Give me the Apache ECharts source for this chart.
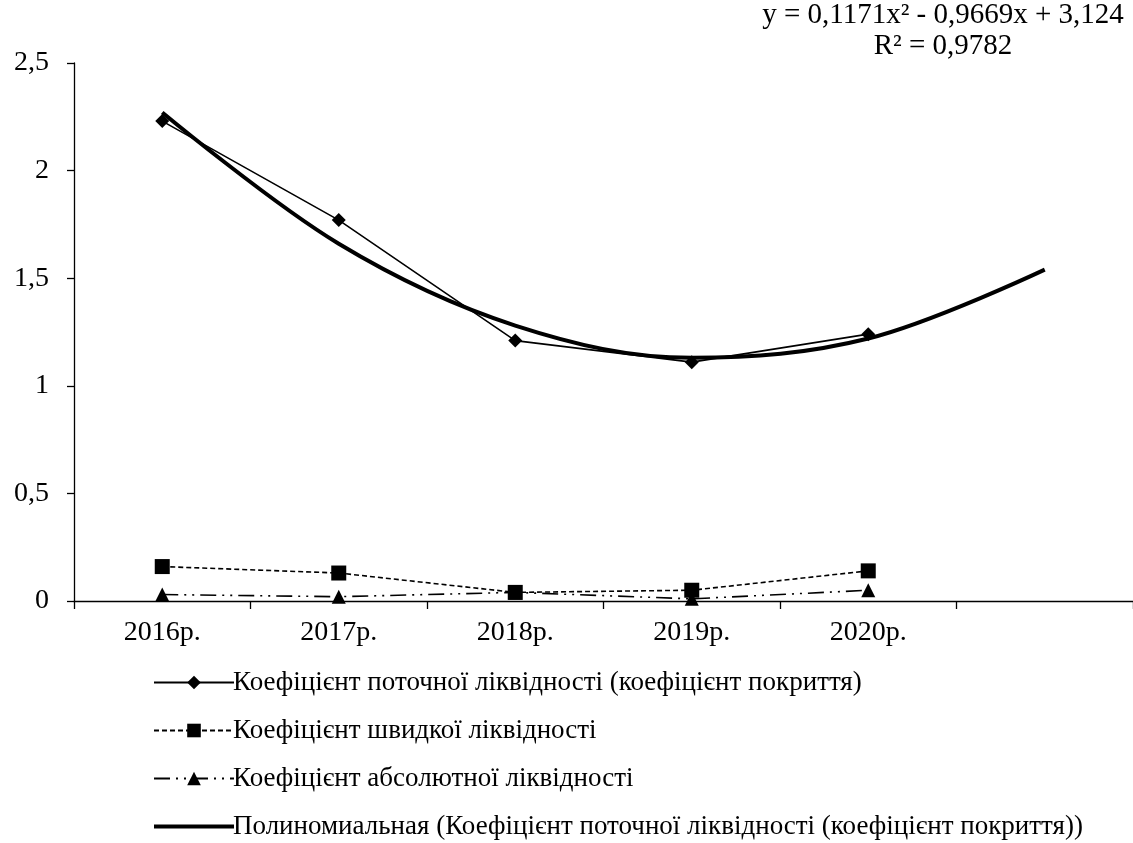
<!DOCTYPE html>
<html><head><meta charset="utf-8">
<script src="https://cdn.jsdelivr.net/npm/echarts@6/dist/echarts.min.js"></script>
<style>html,body{margin:0;padding:0;background:#fff}#c{width:1133px;height:843px}</style>
</head><body><div id="c"></div>
<script>
const categories = ['2016р.', '2017р.', '2018р.', '2019р.', '2020р.', ''];
const currentLiquidity = [2.23, 1.77, 1.21, 1.11, 1.24];
const quickLiquidity = [0.16, 0.13, 0.04, 0.05, 0.14];
const absoluteLiquidity = [0.03, 0.02, 0.04, 0.01, 0.05];
const trendValues = [2.27, 1.66, 1.28, 1.13, 1.22, 1.54];
const yTicks = ['0', '0,5', '1', '1,5', '2', '2,5'];
const names = [
  'Коефіцієнт поточної ліквідності (коефіцієнт покриття)',
  'Коефіцієнт швидкої ліквідності',
  'Коефіцієнт абсолютної ліквідності',
  'Полиномиальная (Коефіцієнт поточної ліквідності (коефіцієнт покриття))'
];
const F = '"Liberation Serif", "DejaVu Serif", serif';
const chart = echarts.init(document.getElementById('c'));
chart.setOption({
  animation: false,
  backgroundColor: '#fff',
  grid: { left: 74, top: 63, width: 1063, bottom: 242 },
  xAxis: {
    type: 'category', data: categories, boundaryGap: true,
    axisLine: { lineStyle: { color: '#000', width: 1.3 } },
    axisTick: { show: true, length: 8, lineStyle: { color: '#000', width: 1.3 } },
    axisLabel: { color: '#000', fontFamily: F, fontSize: 28, margin: 18 },
    splitLine: { show: false }
  },
  yAxis: {
    type: 'value', min: 0, max: 2.5, interval: 0.5,
    axisLine: { show: true, lineStyle: { color: '#000', width: 1.3 } },
    axisTick: { show: true, length: 7, lineStyle: { color: '#000', width: 1.3 } },
    axisLabel: { color: '#000', fontFamily: F, fontSize: 28, margin: 25,
      formatter: v => yTicks[Math.round(v / 0.5)] },
    splitLine: { show: false }
  },
  legend: {
    orient: 'vertical', left: 148, top: 664, height: 200, width: 1000,
    itemWidth: 80, itemHeight: 17, itemGap: 21,
    textStyle: { color: '#000', fontFamily: F, fontSize: 27, padding: [0, 0, 0, -6] },
    data: [
      { name: names[0] },
      { name: names[1] },
      { name: names[2] },
      { name: names[3], icon: 'path://M0,0L80,0L80,4L0,4Z' }
    ]
  },
  graphic: [
    { type: 'text', x: 943, y: 1, style: { text: 'y = 0,1171x² - 0,9669x + 3,124', fill: '#000', font: '29px ' + F, textAlign: 'center' } },
    { type: 'text', x: 943, y: 32, style: { text: 'R² = 0,9782', fill: '#000', font: '29px ' + F, textAlign: 'center' } }
  ],
  series: [
    { name: names[0], type: 'line', data: currentLiquidity, symbol: 'diamond', symbolSize: 14,
      itemStyle: { color: '#000' }, lineStyle: { color: '#000', width: 1.6 }, z: 3 },
    { name: names[1], type: 'line', data: quickLiquidity, symbol: 'rect', symbolSize: 15,
      itemStyle: { color: '#000' }, lineStyle: { color: '#000', width: 1.6, type: [5, 3] } },
    { name: names[2], type: 'line', data: absoluteLiquidity, symbol: 'triangle', symbolSize: 14,
      itemStyle: { color: '#000' }, lineStyle: { color: '#000', width: 1.6, type: [16, 6, 2, 6, 2, 6] } },
    { name: names[3], type: 'line', data: trendValues, symbol: 'none', smooth: 0.35,
      lineStyle: { color: '#000', width: 4 }, itemStyle: { color: '#000' }, z: 2 }
  ]
});
</script></body></html>
